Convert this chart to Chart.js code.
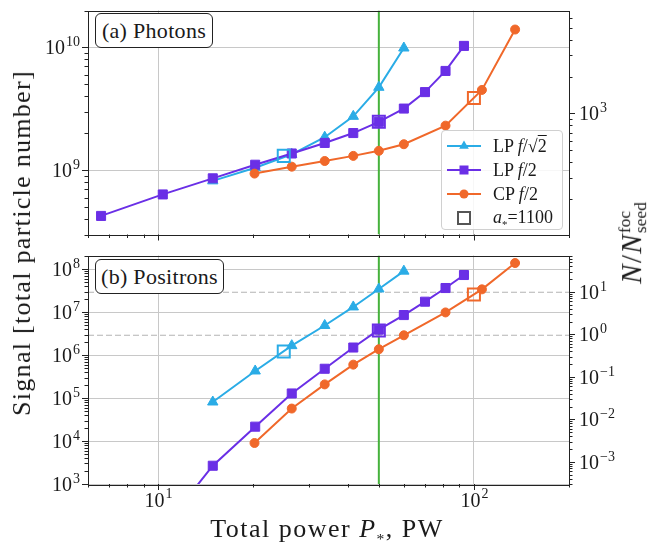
<!DOCTYPE html>
<html>
<head>
<meta charset="utf-8">
<script src="https://cdn.jsdelivr.net/npm/chart.js@4.4.1/dist/chart.umd.min.js"></script>
<style>
body { margin: 0; background: #fff; }
#wrap { position: relative; width: 648px; height: 549px; overflow: hidden; font-family: 'Liberation Serif', 'DejaVu Serif', serif; color: #1a1a1a; }
canvas { position: absolute; left: 0; }
.plabel { position: absolute; border: 1px solid #222; border-radius: 6px; background: #fff; font-size: 22px; line-height: 33px; text-align: center; box-sizing: border-box; letter-spacing: 0.3px; }
#legend { position: absolute; left: 441px; top: 130px; width: 122px; height: 100px; box-sizing: border-box; border: 1px solid #d0d0d0; border-radius: 4px; background: rgba(255,255,255,0.85); font-size: 18px; padding-top: 3px; }
#legend .row { height: 24px; display: flex; align-items: center; }
#legend svg { margin-left: 5px; margin-right: 12px; }
.title { position: absolute; white-space: nowrap; font-size: 26px; letter-spacing: 1.3px; }
.rot { transform: translate(-50%, -50%) rotate(-90deg); }
.ss { display: inline-block; vertical-align: -0.3em; font-size: 0.6em; line-height: 0.95; letter-spacing: 0; }
.ss span { display: block; }
</style>
</head>
<body>
<div id="wrap">
  <canvas id="top" width="648" height="245" style="top:0"></canvas>
  <canvas id="bot" width="648" height="304" style="top:245px"></canvas>

  <div class="plabel" style="left:95px;top:13px;width:118px;height:35px">(a) Photons</div>
  <div class="plabel" style="left:95px;top:259px;width:129px;height:35px">(b) Positrons</div>

  <div id="legend">
    <div class="row"><svg width="34" height="14"><line x1="0" y1="7" x2="34" y2="7" stroke="#2aace6" stroke-width="2"/><polygon points="17,1.5 21.8,9.8 12.2,9.8" fill="#2aace6"/></svg><span>LP <i>f</i>/√<span style="text-decoration:overline">2</span></span></div>
    <div class="row"><svg width="34" height="14"><line x1="0" y1="7" x2="34" y2="7" stroke="#6a2fe6" stroke-width="2"/><rect x="12.5" y="2.5" width="9" height="9" fill="#6a2fe6"/></svg><span>LP <i>f</i>/2</span></div>
    <div class="row"><svg width="34" height="14"><line x1="0" y1="7" x2="34" y2="7" stroke="#f0682a" stroke-width="2"/><circle cx="17" cy="7" r="4.5" fill="#f0682a"/></svg><span>CP <i>f</i>/2</span></div>
    <div class="row"><svg width="34" height="14"><rect x="11" y="1" width="12" height="12" fill="none" stroke="#555" stroke-width="2"/></svg><span><i>a</i><sub style="font-size:0.6em">*</sub>=1100</span></div>
  </div>

  <div class="title rot" style="left:22px;top:243px">Signal [total particle number]</div>
  <div class="title rot" style="left:632px;top:243px;font-size:29px"><i>N</i>/<i>N</i><span class="ss"><span>foc</span><span>seed</span></span></div>
  <div class="title" style="left:327px;top:531px;transform:translate(-50%,-50%);letter-spacing:1.5px">Total power <i>P</i><sub style="font-size:0.6em">*</sub>, PW</div>
</div>

<script>
// x: total power P*, PW
const powerRange = [6, 200];
const markerPower = 50;

// LP f/sqrt2
const powerLPsqrt2 = [14.9, 20.3, 26.5, 33.7, 41.5, 50, 60];
const photonsLPsqrt2 = [8.2e8, 1.05e9, 1.35e9, 1.86e9, 2.75e9, 4.74e9, 9.9e9];
const positronsLPsqrt2 = [8.1e4, 4.27e5, 1.66e6, 4.89e6, 1.32e7, 3.46e7, 9.0e7];

// LP f/2
const powerLP2 = [6.6, 10.35, 14.9, 20.3, 26.5, 33.7, 41.5, 50, 60, 70, 81.3, 93];
const photonsLP2 = [4.25e8, 6.36e8, 8.6e8, 1.11e9, 1.37e9, 1.67e9, 2.01e9, 2.48e9, 3.18e9, 4.33e9, 6.44e9, 1.03e10];
const positronsLP2 = [null, 92, 2.66e3, 2.16e4, 1.28e5, 4.81e5, 1.5e6, 3.9e6, 8.55e6, 1.75e7, 3.64e7, 7.31e7];

// CP f/2
const powerCP2 = [20.2, 26.5, 33.7, 41.5, 50, 60, 81.3, 106, 135];
const photonsCP2 = [9.4e8, 1.07e9, 1.19e9, 1.31e9, 1.44e9, 1.63e9, 2.31e9, 4.51e9, 1.40e10];
const positronsCP2 = [9.0e3, 5.7e4, 2.08e5, 6.0e5, 1.37e6, 2.89e6, 9.84e6, 3.39e7, 1.39e8];

// a* = 1100 markers (LP f/sqrt2, LP f/2, CP f/2)
const aStarPower = [25, 50, 100];
const aStarPhotons = [1.31e9, 2.48e9, 3.88e9];
const aStarPositrons = [1.21e6, 3.75e6, 2.57e7];

// axis ranges, N_seed^foc scaling and N/N_seed reference levels
const photonRange = [3e8, 2e10];
const positronRange = [1e3, 2.08e8];
const seedFactor = 2.9e6;
const seedLevels = [1, 10];

const CYAN = '#2aace6', PURPLE = '#6a2fe6', ORANGE = '#f0682a', GREEN = '#46b23c';
const GRID = '#c8c8c8';
const FONT = "'Liberation Serif', 'DejaVu Serif', serif";

const pts = (xs, ys) => xs.map((x, i) => ({x: x, y: ys[i]}));
const isDecade = v => Math.abs(Math.log10(v) - Math.round(Math.log10(v))) < 1e-6;

// "10" with a raised exponent, like the mathtext labels
function drawPow(ctx, v, x, y, align) {
  const e = String(Math.round(Math.log10(v))).replace('-', '\u2212');
  ctx.font = '20px ' + FONT;
  const wb = ctx.measureText('10').width;
  ctx.font = '14px ' + FONT;
  const we = ctx.measureText(e).width;
  const w = wb + 1 + we;
  const x0 = align === 'right' ? x - w : (align === 'center' ? x - w / 2 : x);
  ctx.fillStyle = '#1a1a1a';
  ctx.textAlign = 'left';
  ctx.textBaseline = 'alphabetic';
  ctx.font = '20px ' + FONT;
  ctx.fillText('10', x0, y + 6.5);
  ctx.font = '14px ' + FONT;
  ctx.fillText(e, x0 + wb + 1, y - 2);
}

// outward tick marks (major + minor), decade labels and the box round the plot area
const axisFrame = {
  id: 'axisFrame',
  afterDraw(chart) {
    const ctx = chart.ctx, a = chart.chartArea;
    ctx.save();
    ctx.strokeStyle = '#222';
    ctx.lineWidth = 1;
    Object.values(chart.scales).forEach(s => {
      const showLabels = s.options.showPowLabels;
      const lo = Math.floor(Math.log10(s.min)), hi = Math.ceil(Math.log10(s.max));
      for (let d = lo; d <= hi; d++) {
        for (let k = 1; k <= 9; k++) {
          const v = k * Math.pow(10, d);
          if (v < s.min * 0.9999 || v > s.max * 1.0001) continue;
          const len = k === 1 ? 6 : 3.5;
          const p = Math.round(s.getPixelForValue(v)) + 0.5;
          ctx.beginPath();
          if (s.axis === 'x') { ctx.moveTo(p, a.bottom); ctx.lineTo(p, a.bottom + len); }
          else if (s.position === 'left') { ctx.moveTo(a.left, p); ctx.lineTo(a.left - len, p); }
          else { ctx.moveTo(a.right, p); ctx.lineTo(a.right + len, p); }
          ctx.stroke();
          if (k === 1 && showLabels) {
            if (s.axis === 'x') drawPow(ctx, v, p, a.bottom + 16, 'center');
            else if (s.position === 'left') drawPow(ctx, v, a.left - 8, p, 'right');
            else drawPow(ctx, v, a.right + 10, p, 'left');
          }
        }
      }
    });
    ctx.strokeRect(Math.round(a.left) + 0.5, Math.round(a.top) + 0.5, Math.round(a.right - a.left), Math.round(a.bottom - a.top));
    ctx.restore();
  }
};

function series(label, xs, ys, color, style, radius, order) {
  return {
    label: label, data: pts(xs, ys), order: order,
    borderColor: color, backgroundColor: color, borderWidth: 2,
    pointStyle: style, pointRadius: radius, pointBorderWidth: 1,
    pointBorderColor: color, pointBackgroundColor: color, spanGaps: false
  };
}

// fixed axis sizes so the plot box lands where the reference has it
function fixSize(prop, px) {
  return s => {
    s[prop] = px;
    s.paddingTop = 0; s.paddingBottom = 0; s.paddingLeft = 0; s.paddingRight = 0;
  };
}

function panel(id, yRange, sets, showX, xHeight) {
  const gridColor = c => isDecade(c.tick.value) ? GRID : 'rgba(0,0,0,0)';
  return new Chart(document.getElementById(id), {
    type: 'line',
    data: {datasets: sets},
    options: {
      responsive: false,
      animation: false,
      layout: {padding: {top: 5, left: 0, right: 0, bottom: 0}},
      plugins: {legend: {display: false}, tooltip: {enabled: false}},
      scales: {
        x: {
          type: 'logarithmic', position: 'bottom', min: powerRange[0], max: powerRange[1],
          showPowLabels: showX,
          grid: {color: gridColor, drawTicks: false, lineWidth: 1},
          border: {display: false},
          ticks: {display: false, autoSkip: false},
          afterFit: fixSize('height', xHeight)
        },
        y: {
          type: 'logarithmic', position: 'left', min: yRange[0], max: yRange[1],
          showPowLabels: true,
          grid: {color: gridColor, drawTicks: false, lineWidth: 1},
          border: {display: false},
          ticks: {display: false, autoSkip: false},
          afterFit: fixSize('width', 88)
        },
        y2: {
          type: 'logarithmic', position: 'right', min: yRange[0] / seedFactor, max: yRange[1] / seedFactor,
          showPowLabels: true,
          grid: {drawOnChartArea: false, drawTicks: false},
          border: {display: false},
          ticks: {display: false, autoSkip: false},
          afterFit: fixSize('width', 79)
        }
      }
    },
    plugins: [axisFrame]
  });
}

function vline(yRange) {
  return {data: [{x: markerPower, y: yRange[0]}, {x: markerPower, y: yRange[1]}],
    borderColor: GREEN, borderWidth: 2, pointRadius: 0, order: 9};
}

function aStar(ys) {
  return {data: pts(aStarPower, ys), showLine: false, order: 0,
    pointStyle: 'rect', pointRadius: 8.5, pointBorderWidth: 2,
    pointBorderColor: [CYAN, PURPLE, ORANGE], pointBackgroundColor: 'rgba(0,0,0,0)'};
}

panel('top', photonRange, [
  vline(photonRange),
  series('LP f/√2', powerLPsqrt2, photonsLPsqrt2, CYAN, 'triangle', 6, 3),
  series('LP f/2', powerLP2, photonsLP2, PURPLE, 'rect', 6.4, 2),
  series('CP f/2', powerCP2, photonsCP2, ORANGE, 'circle', 4.5, 1),
  aStar(aStarPhotons)
], false, 7);

const dashed = seedLevels.map(l => ({
  data: pts(powerRange, [l * seedFactor, l * seedFactor]),
  borderColor: '#b4b4b4', borderWidth: 1.2, borderDash: [6, 3], pointRadius: 0, order: 8
}));

panel('bot', positronRange, [
  vline(positronRange),
  ...dashed,
  series('LP f/√2', powerLPsqrt2, positronsLPsqrt2, CYAN, 'triangle', 6, 3),
  series('LP f/2', powerLP2, positronsLP2, PURPLE, 'rect', 6.4, 2),
  series('CP f/2', powerCP2, positronsCP2, ORANGE, 'circle', 4.5, 1),
  aStar(aStarPositrons)
], true, 65);
</script>
</body>
</html>
